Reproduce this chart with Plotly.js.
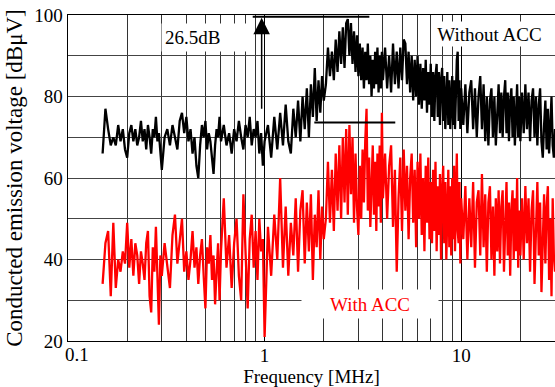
<!DOCTYPE html>
<html>
<head>
<meta charset="utf-8">
<script src="https://cdn.plot.ly/plotly-3.0.1.min.js"></script>
<style>html,body{margin:0;padding:0;background:#fff;}#chart{width:555px;height:387px;}</style>
</head>
<body>
<div id="chart"></div>
<script>
// Frequency sample points [MHz], by band
const freq1 = [0.150,0.155,0.160,0.165,0.170,0.175,0.180,0.185,0.190,0.195,0.200,0.205,0.210,0.215,0.220,0.225,0.230,0.235,0.240,0.245,0.250,0.255,0.260,0.265,0.270,0.275,0.280,0.285,0.290,0.295,0.300];
const freq2 = [0.31,0.32,0.33,0.34,0.35,0.36,0.37,0.38,0.39,0.40,0.41,0.42,0.43,0.44,0.45,0.46,0.47,0.48,0.49,0.50,0.51,0.52,0.53,0.54,0.55,0.56,0.57,0.58,0.59,0.60];
const freq3 = [0.62,0.64,0.66,0.68,0.70,0.72,0.74,0.76,0.78,0.80,0.82,0.84,0.86,0.88,0.90,0.92,0.94,0.96,0.98,1.00];
const freq4 = [1.04,1.08,1.12,1.16,1.20,1.24,1.28,1.32,1.36,1.40,1.44,1.48,1.52,1.56,1.60,1.64,1.68,1.72,1.76,1.80,1.84,1.88,1.92,1.96,2.00];
const freq5 = [2.05,2.10,2.15,2.20,2.25,2.30,2.35,2.40,2.45,2.50,2.55,2.60,2.65,2.70,2.75,2.80,2.85,2.90,2.95,3.00,3.05,3.10,3.15,3.20,3.25,3.30,3.35,3.40,3.45,3.50,3.55,3.60,3.65,3.70,3.75,3.80,3.85,3.90,3.95,4.00];
const freq6 = [4.1,4.2,4.3,4.4,4.5,4.6,4.7,4.8,4.9,5.0,5.1,5.2,5.3,5.4,5.5,5.6,5.7,5.8,5.9,6.0,6.1,6.2,6.3,6.4,6.5,6.6,6.7,6.8,6.9,7.0,7.1,7.2,7.3,7.4,7.5,7.6,7.7,7.8,7.9,8.0,8.1,8.2,8.3,8.4,8.5,8.6,8.7,8.8,8.9,9.0,9.1,9.2,9.3,9.4,9.5,9.6,9.7,9.8,9.9,10.0];
const freq7 = [10.25,10.5,10.75,11.0,11.25,11.5,11.75,12.0,12.25,12.5,12.75,13.0,13.25,13.5,13.75,14.0,14.25,14.5,14.75,15.0,15.25,15.5,15.75,16.0,16.25,16.5,16.75,17.0,17.25,17.5,17.75,18.0,18.25,18.5,18.75,19.0,19.25,19.5,19.75,20.0];
const freq8 = [20.4,20.8,21.2,21.6,22.0,22.4,22.8,23.2,23.6,24.0,24.4,24.8,25.2,25.6,26.0,26.4,26.8,27.2,27.6,28.0,28.4,28.8,29.2,29.6,30.0];

// Without ACC [dBuV]
const noAcc1 = [66,77,72,68,70,68,73,69,72,67,65,71,73,69,72,68,70,74,69,72,67,73,70,66,72,70,75,69,71,67,62];
const noAcc2 = [70,72,68,73,70,67,74,76,71,75,69,72,66,70,63,60,68,73,70,74,67,71,69,64,61,68,72,70,75,69];
const noAcc3 = [73,68,71,66,72,69,74,70,67,73,70,75,68,72,70,74,66,71,63,69];
const noAcc4 = [73,65,75,67,76,68,78,69,66,77,70,79,69,80,72,82,70,83,75,87,74,84,76,85,79];
const noAcc5 = [83,92,85,91,84,94,86,96,88,97,87,98,99,90,98,88,96,86,95,85,93,84,92,82,91,84,93,83,90,80,89,82,91,83,92,81,90,82,91,84];
const noAcc6 = [92,82,90,81,93,83,91,82,92,84,94,93,83,91,81,90,79,89,80,90,78,88,77,87,79,89,76,86,78,88,75,86,74,85,88,75,86,73,84,87,74,85,72,83,86,73,84,72,82,85,73,84,72,81,89,91,74,84,72,82];
const noAcc7 = [73,83,71,81,84,72,82,70,80,85,72,83,69,80,68,79,82,70,80,68,78,83,71,81,70,80,84,71,81,69,79,82,70,80,68,78,83,70,80,69];
const noAcc8 = [81,71,83,72,81,69,79,82,70,80,68,78,82,69,65,73,79,67,77,66,76,80,68,65,72];

// With ACC [dBuV]
const acc1 = [34,44,47,31,49,33,40,37,42,39,49,38,45,36,44,41,34,42,39,35,44,47,31,27,43,37,48,33,24,41,36];
const acc2 = [44,38,33,46,51,39,44,50,37,42,35,40,47,38,43,34,41,45,36,28,43,39,46,35,41,29,37,44,30,42];
const acc3 = [55,38,46,33,44,50,36,30,56,40,28,45,51,38,47,35,50,42,45,21];
const acc4 = [48,36,51,40,60,38,53,36,49,41,55,37,52,57,39,54,42,56,35,51,43,57,40,53,45];
const acc5 = [50,64,49,62,47,66,52,68,50,70,54,72,51,73,56,70,49,66,53,46,63,50,67,54,69,77,52,65,48,62,68,51,64,47,66,53,68,49,76,55];
const acc6 = [66,50,63,68,48,62,37,55,65,47,67,52,63,45,60,66,49,62,43,64,50,66,46,60,42,63,49,65,45,59,44,62,47,64,42,58,46,61,40,57,63,44,59,40,56,62,43,58,41,60,45,63,42,57,66,47,44,59,39,55];
const acc7 = [45,58,40,55,43,59,38,54,57,41,61,43,56,37,54,58,40,53,36,55,42,57,39,53,57,37,51,59,41,54,36,52,57,40,55,42,60,38,52,41];
const acc8 = [55,40,58,44,55,37,52,57,34,51,59,41,54,32,46,56,39,53,58,35,50,31,55,41,37];

// Reference levels for the 26.5 dB marker
const peakLevel = 99.6, peakFrom = 0.87, peakTo = 3.41;
const accLevel = 73.6, accFrom = 1.79, accTo = 4.62;
const arrowFreq = 0.966;

const xTicks = [1, 10];
const xTickText = ['1', '10'];
const xMinor = [0.2,0.3,0.4,0.5,0.6,0.7,0.8,0.9,2,3,4,5,6,7,8,9,20,30];
const yTicks = [20, 40, 60, 80, 100];

const freq = [].concat(freq1,freq2,freq3,freq4,freq5,freq6,freq7,freq8);
const noAcc = [].concat(noAcc1,noAcc2,noAcc3,noAcc4,noAcc5,noAcc6,noAcc7,noAcc8);
const withAcc = [].concat(acc1,acc2,acc3,acc4,acc5,acc6,acc7,acc8);

const FONT = '"Liberation Serif", serif';
const L = Math.log10;

const traces = [
  {x: freq, y: noAcc, type: 'scatter', mode: 'lines', name: 'Without ACC',
   line: {color: '#000000', width: 2.3}, hoverinfo: 'skip'},
  {x: freq, y: withAcc, type: 'scatter', mode: 'lines', name: 'With ACC',
   line: {color: '#ff0000', width: 2.3}, hoverinfo: 'skip'}
];

const layout = {
  width: 555, height: 387,
  margin: {l: 68, r: 0, t: 15, b: 46},
  paper_bgcolor: '#fff', plot_bgcolor: '#fff',
  showlegend: false,
  font: {family: FONT, size: 19, color: '#000'},
  xaxis: {
    type: 'log', range: [-1, L(30)],
    tickmode: 'array', tickvals: xTicks, ticktext: xTickText,
    tickfont: {family: FONT, size: 19, color: '#000'},
    ticklabelstandoff: -3,
    ticks: '', showgrid: true, gridcolor: '#000', gridwidth: 1,
    minor: {tickmode: 'array', tickvals: xMinor, showgrid: true, gridcolor: '#333', gridwidth: 1, ticks: ''},
    showline: true, linecolor: '#000', linewidth: 1, mirror: true,
    zeroline: false, automargin: false,
    title: {text: 'Frequency [MHz]', font: {family: FONT, size: 19, color: '#000'}, standoff: 8}
  },
  yaxis: {
    range: [20, 100], tickmode: 'array', tickvals: yTicks,
    tickfont: {family: FONT, size: 19, color: '#000'},
    ticks: '', showgrid: true, gridcolor: '#444', gridwidth: 1,
    minor: {dtick: 10, showgrid: true, gridcolor: '#444', gridwidth: 1, ticks: ''},
    showline: true, linecolor: '#000', linewidth: 1.5, mirror: false,
    zeroline: false, automargin: false,
    title: {text: 'Conducted emission voltage [dBμV]', font: {family: FONT, size: 23, color: '#000'}, standoff: 5}
  },
  shapes: [
    {type: 'line', xref: 'x', yref: 'y', x0: peakFrom, x1: peakTo, y0: peakLevel, y1: peakLevel,
     line: {color: '#000', width: 2}, layer: 'above'},
    {type: 'line', xref: 'x', yref: 'y', x0: accFrom, x1: accTo, y0: accLevel, y1: accLevel,
     line: {color: '#000', width: 2}, layer: 'above'}
  ],
  annotations: [
    {xref: 'x', yref: 'y', x: L(arrowFreq), y: peakLevel - 0.3, ax: L(arrowFreq), ay: accLevel + 3,
     axref: 'x', ayref: 'y', text: '', showarrow: true, arrowhead: 2, arrowsize: 2.2, arrowwidth: 1.5,
     arrowcolor: '#000', standoff: 0, startstandoff: 0},
    {xref: 'x', yref: 'y', x: -0.2995, y: 94.4, text: '26.5dB', showarrow: false,
     bgcolor: '#fff', borderpad: 3, width: 82, height: 21, align: 'left',
     font: {family: FONT, size: 19, color: '#000'}},
    {xref: 'x', yref: 'y', x: 1.142, y: 95.3, text: 'Without ACC', showarrow: false,
     bgcolor: '#fff', borderpad: 3, width: 109, height: 18,
     font: {family: FONT, size: 19, color: '#000'}},
    {xref: 'x', yref: 'y', x: 0.5355, y: 29.1, text: 'With ACC', showarrow: false,
     bgcolor: '#fff', borderpad: 3, width: 130, height: 22,
     font: {family: FONT, size: 19, color: '#ff0000'}},
    {xref: 'x', yref: 'paper', x: -1, y: 0, text: '0.1', showarrow: false,
     xanchor: 'left', yanchor: 'top', xshift: -5, yshift: -1,
     font: {family: FONT, size: 19, color: '#000'}}
  ]
};

Plotly.newPlot('chart', traces, layout, {staticPlot: true, displayModeBar: false});
</script>
</body>
</html>
